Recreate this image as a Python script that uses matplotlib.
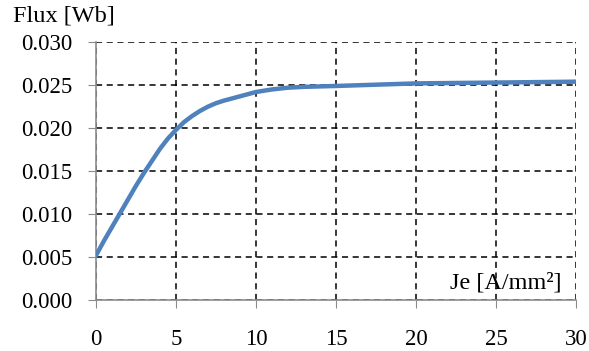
import numpy as np
import matplotlib.pyplot as plt

plt.rcParams['font.family'] = ['Liberation Serif', 'DejaVu Serif']

# data
je = [0, 0.5, 1, 1.5, 2, 2.5, 3, 3.5, 4, 4.5, 5, 5.5, 6, 6.5, 7, 7.5,
      8, 9, 10, 11, 12, 13, 15, 20, 25, 30]
flux = [0.0052, 0.0069, 0.0085, 0.0101, 0.0117, 0.0133, 0.0148, 0.0162,
        0.0176, 0.0188, 0.0198, 0.0207, 0.0214, 0.0220, 0.0225, 0.0229,
        0.0232, 0.0237, 0.0242, 0.0245, 0.0247, 0.0248, 0.0249, 0.0252,
        0.0253, 0.0254]
xticks = [0, 5, 10, 15, 20, 25, 30]
yticks = [0.000, 0.005, 0.010, 0.015, 0.020, 0.025, 0.030]

fig = plt.figure(figsize=(5.89, 3.51), dpi=100)
ax = fig.add_axes([0.163, 0.145, 0.815, 0.735])

ax.plot(je, flux, color='#4F81BD', lw=3.2, solid_capstyle='round',
        solid_joinstyle='round', zorder=3)

ax.set_xlim(0, 30)
ax.set_ylim(0, 0.030)
ax.set_xticks(xticks)
ax.set_yticks(yticks)
ax.set_yticklabels(['%.3f' % v for v in yticks])
ax.grid(True, color='black', linestyle=(0, (4, 3)), linewidth=1.1)

for s in ['top', 'right']:
    ax.spines[s].set_visible(False)
for s in ['left', 'bottom']:
    ax.spines[s].set_color('#8c8c8c')
    ax.spines[s].set_linewidth(1.2)
ax.tick_params(axis='both', direction='out', length=6, color='#8c8c8c',
               labelsize=16.5, labelcolor='black')
ax.tick_params(axis='x', pad=15)
ax.tick_params(axis='y', pad=11)

fig.text(0.022, 0.955, 'Flux [Wb]', fontsize=17.5, va='center', ha='left')
ax.text(0.97, 0.025, 'Je [A/mm²]', fontsize=17.5, transform=ax.transAxes,
        ha='right', va='bottom')

fig.savefig('out.png', dpi=100)
